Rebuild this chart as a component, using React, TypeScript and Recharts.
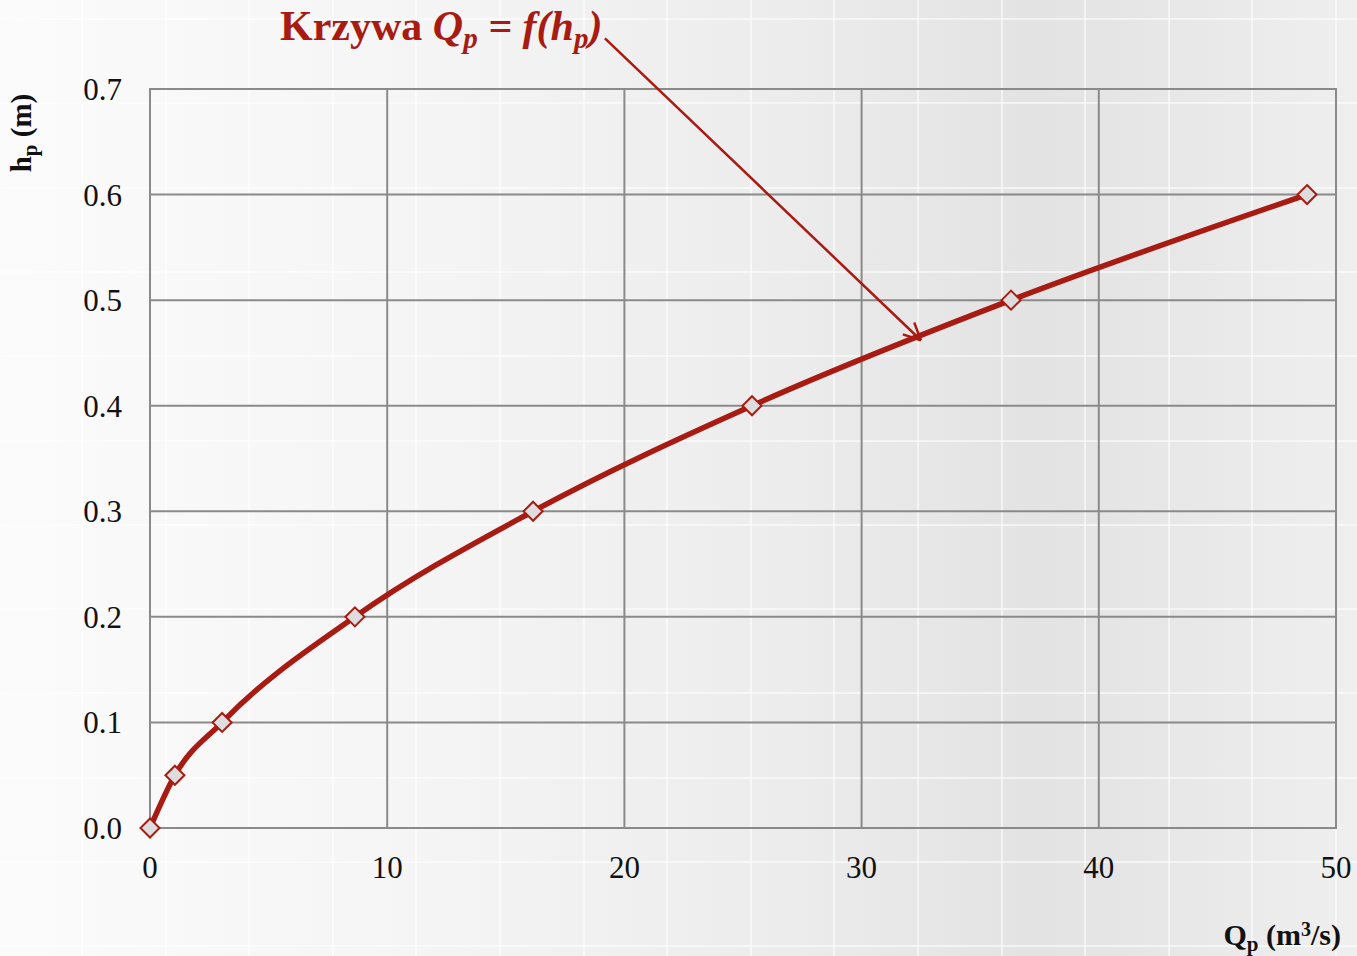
import React from 'react';
import { LineChart, Line, XAxis, YAxis, CartesianGrid, ReferenceLine, ReferenceArea } from 'recharts';

// rating curve points: discharge Qp (m3/s) vs depth hp (m)
const discharge = [0, 1.05, 3.04, 8.64, 16.15, 25.38, 36.3, 48.78];
const depth = [0, 0.05, 0.1, 0.2, 0.3, 0.4, 0.5, 0.6];
const xTicks = [0, 10, 20, 30, 40, 50];
const yTicks = [0, 0.1, 0.2, 0.3, 0.4, 0.5, 0.6, 0.7];
// annotation arrow: from title to the curve
const arrowFrom = { x: 19.18, y: 0.748 };
const arrowTo = { x: 32.5, y: 0.462 };

const data = discharge.map((q, i) => ({ q, h: depth[i] }));

const RED = '#a81b12';
const GRID = '#8a8a8a';
const SERIF = '"Liberation Serif", "Times New Roman", serif';

const Diamond = (props: any) => {
	const { cx, cy, index } = props;
	if (cx == null || cy == null) return null;
	const r = 9.5;
	return (
		<path
			key={`d-${index}`}
			d={`M${cx},${cy - r} L${cx + r},${cy} L${cx},${cy + r} L${cx - r},${cy} Z`}
			fill="#dddddd"
			stroke={RED}
			strokeWidth={2}
		/>
	);
};

const ArrowShape = (props: any) => {
	const { x1, y1, x2, y2 } = props;
	const ang = Math.atan2(y2 - y1, x2 - x1);
	const len = 19;
	const spread = Math.PI / 7;
	const a1 = ang + Math.PI - spread;
	const a2 = ang + Math.PI + spread;
	return (
		<g>
			<line x1={x1} y1={y1} x2={x2} y2={y2} stroke={RED} strokeWidth={2.5} />
			<line x1={x2} y1={y2} x2={x2 + len * Math.cos(a1)} y2={y2 + len * Math.sin(a1)} stroke={RED} strokeWidth={2.5} />
			<line x1={x2} y1={y2} x2={x2 + len * Math.cos(a2)} y2={y2 + len * Math.sin(a2)} stroke={RED} strokeWidth={2.5} />
		</g>
	);
};

export default function App() {
	return (
		<div
			style={{
				position: 'absolute',
				top: 0,
				left: 0,
				width: 1357,
				height: 956,
				overflow: 'hidden',
				fontFamily: SERIF,
				backgroundColor: '#eeeeee',
				backgroundImage: [
					'repeating-linear-gradient(to right, transparent 0px, transparent 81px, rgba(255,255,255,0.55) 81px, rgba(255,255,255,0.55) 83px, transparent 83px, transparent 83.6px)',
					'repeating-linear-gradient(to bottom, transparent 0px, transparent 18px, rgba(255,255,255,0.55) 18px, rgba(255,255,255,0.55) 20px, transparent 20px, transparent 84.3px)',
					'linear-gradient(to right, #fbfbfb 0%, #f5f5f5 30%, #ececec 58%, #e3e3e3 76%, #e6e6e6 84%, #efefef 100%)',
				].join(', '),
			}}
		>
			<LineChart
				width={1357}
				height={956}
				data={data}
				margin={{ top: 89, right: 21, bottom: 0, left: 0 }}
				style={{ position: 'absolute', top: 0, left: 0, fontFamily: SERIF }}
			>
				<CartesianGrid stroke={GRID} strokeWidth={2} fill="none" />
				<XAxis
					dataKey="q"
					type="number"
					domain={[0, 50]}
					ticks={xTicks}
					height={128}
					axisLine={false}
					tickLine={false}
					tickSize={0}
					tickMargin={28}
					tick={{ fontSize: 31, fill: '#111', fontFamily: SERIF }}
				/>
				<YAxis
					dataKey="h"
					type="number"
					domain={[0, 0.7]}
					ticks={yTicks}
					width={150}
					axisLine={false}
					tickLine={false}
					tickSize={0}
					tickMargin={28}
					tickFormatter={(v: number) => v.toFixed(1)}
					tick={{ fontSize: 31, fill: '#111', fontFamily: SERIF }}
				/>
				<ReferenceArea x1={0} x2={50} y1={0} y2={0.7} fill="none" stroke={GRID} strokeWidth={2} ifOverflow="visible" />
				<ReferenceLine
					segment={[arrowFrom, arrowTo]}
					ifOverflow="visible"
					shape={ArrowShape}
				/>
				<Line
					dataKey="h"
					type="monotone"
					stroke={RED}
					strokeWidth={5.5}
					dot={Diamond}
					activeDot={false}
					isAnimationActive={false}
				/>
			</LineChart>

			<div
				style={{
					position: 'absolute',
					left: 280,
					top: 1,
					color: RED,
					fontSize: 42,
					fontWeight: 'bold',
					whiteSpace: 'nowrap',
					lineHeight: '50px',
				}}
			>
				Krzywa{' '}
				<i>
					Q<sub style={{ fontSize: 29, verticalAlign: '-8px' }}>p</sub> = f(h
					<sub style={{ fontSize: 29, verticalAlign: '-8px' }}>p</sub>)
				</i>
			</div>

			<div
				style={{
					position: 'absolute',
					left: 25,
					top: 133,
					transform: 'translate(-50%, -50%) rotate(-90deg)',
					fontSize: 29,
					fontWeight: 'bold',
					whiteSpace: 'nowrap',
					color: '#111',
					lineHeight: '32px',
				}}
			>
				h<sub style={{ fontSize: 21, verticalAlign: '-6px' }}>p</sub> (m)
			</div>

			<div
				style={{
					position: 'absolute',
					right: 16,
					top: 911,
					fontSize: 30,
					fontWeight: 'bold',
					whiteSpace: 'nowrap',
					color: '#111',
					lineHeight: '36px',
				}}
			>
				Q<sub style={{ fontSize: 21, verticalAlign: '-6px' }}>p</sub> (m<sup style={{ fontSize: 20, verticalAlign: '9px' }}>3</sup>/s)
			</div>
		</div>
	);
}
